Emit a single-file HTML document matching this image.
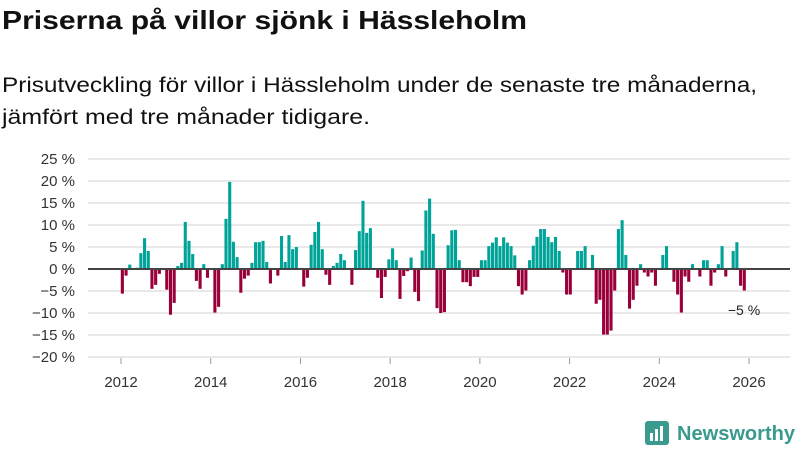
<!DOCTYPE html>
<html><head><meta charset="utf-8">
<style>
html,body{margin:0;padding:0;background:#fff;}
svg{display:block;font-family:"Liberation Sans",sans-serif;}
</style></head>
<body>
<svg id="chart" width="800" height="450" viewBox="0 0 800 450" xmlns="http://www.w3.org/2000/svg">
<text x="2" y="29" font-size="26" font-weight="bold" fill="#111" textLength="525" lengthAdjust="spacingAndGlyphs">Priserna på villor sjönk i Hässleholm</text>
<text x="2" y="92" font-size="21" fill="#111" textLength="755" lengthAdjust="spacingAndGlyphs">Prisutveckling för villor i Hässleholm under de senaste tre månaderna,</text>
<text x="2" y="124" font-size="21" fill="#111" textLength="368" lengthAdjust="spacingAndGlyphs">jämfört med tre månader tidigare.</text>
<g id="grid"></g>
<g id="ylabels"></g>
<g id="bars"></g>
<g id="xlabels"></g>
<text x="744" y="315" font-size="14" fill="#222" text-anchor="middle">−5 %</text>
<g>
  <rect x="645" y="421" width="24" height="24" rx="3" fill="#3a9a8e"/>
  <rect x="650" y="433" width="3" height="8" fill="#fff"/>
  <rect x="655" y="429" width="3" height="12" fill="#fff"/>
  <rect x="660" y="426" width="3" height="15" fill="#fff"/>
  <text x="677" y="440" font-size="20" font-weight="bold" fill="#3a9a8e" textLength="118" lengthAdjust="spacingAndGlyphs">Newsworthy</text>
</g>
</svg>
<script>
const yTicks = [25,20,15,10,5,0,-5,-10,-15,-20];
const yTickLabels = ["25 %","20 %","15 %","10 %","5 %","0 %","−5 %","−10 %","−15 %","−20 %"];
const xTickYears = [2012,2014,2016,2018,2020,2022,2024,2026];
const xTickLabels = ["2012","2014","2016","2018","2020","2022","2024","2026"];
const values = [
-5.6,-1.5,1,0,0.3,3.6,7,4.1,-4.5,-3.6,-1.1,0,-4.7,-10.4,-7.7,0.7,1.4,10.7,6.4,3.4,-2.7,-4.5,1.1,-2,
0,-9.9,-8.6,1.1,11.4,19.8,6.2,2.7,-5.4,-2.2,-1.5,1.4,6.1,6.1,6.4,1.6,-3.3,0,-1.5,7.5,1.6,7.7,4.5,5,
0,-4,-2,5.5,8.4,10.7,4.5,-1.3,-3.6,0.7,1.4,3.4,2,0,-3.6,4.3,8.6,15.5,8.2,9.3,0,-2,-6.6,-1.8,
2.2,4.7,2,-6.8,-1.6,-0.5,2.6,-5.2,-7.3,4.2,13.3,16,8,-8.9,-10,-9.8,5.4,8.8,8.9,2,-3,-3,-3.9,-1.8,
-1.8,2,2,5.2,6,7.2,5.2,7.2,6,5.2,3.1,-3.9,-5.8,-4.9,2,5.3,7.3,9.1,9.1,7.3,6.1,7.3,4.1,-0.8,
-5.8,-5.8,0,4.1,4.1,5.2,0,3.2,-7.9,-7,-14.9,-14.9,-14,-4.9,9.1,11.1,3.2,-9,-7,-3.8,1.1,-0.8,-1.7,-0.8,
-3.8,0,3.2,5.2,0,-2.9,-5.8,-9.9,-1.7,-2.9,1.1,0,-1.7,2,2,-3.8,-0.8,1.1,5.2,-1.7,0,4.1,6.1,-3.8,-4.9
];
const NS="http://www.w3.org/2000/svg";
function yScale(v){return 269 - v*4.4;}
function xYear(y){return 121 + (y-2012)*44.86;}
function xBar(i){return 122.3 + i*3.702;}
const grid=document.getElementById('grid'), yl=document.getElementById('ylabels');
yTicks.forEach((t,k)=>{
  if(t!==0){
    const l=document.createElementNS(NS,'line');
    
    
    l.setAttribute('x1',88);l.setAttribute('x2',790);
    l.setAttribute('y1',yScale(t));l.setAttribute('y2',yScale(t));
    l.setAttribute('stroke','#e2e2e2');l.setAttribute('stroke-width','1.5');
    grid.appendChild(l);
  }
  const tx=document.createElementNS(NS,'text');
  
  
  tx.setAttribute('x',75);tx.setAttribute('y',yScale(t)+5);
  tx.setAttribute('text-anchor','end');tx.setAttribute('font-size','15');tx.setAttribute('fill','#333');
  tx.textContent=yTickLabels[k];
  yl.appendChild(tx);
});
const bars=document.getElementById('bars');
values.forEach((v,i)=>{
  if(v===0)return;
  const r=document.createElementNS(NS,'rect');
  
  
  const x=xBar(i);
  r.setAttribute('x',x-1.5);r.setAttribute('width',3.1);
  r.setAttribute('y',Math.min(yScale(v),yScale(0)));
  r.setAttribute('height',Math.abs(yScale(v)-yScale(0)));
  r.setAttribute('fill',v>0?'#00a398':'#99003a');
  bars.appendChild(r);
});
const zl=document.createElementNS(NS,'line');


zl.setAttribute('x1',88);zl.setAttribute('x2',790);
zl.setAttribute('y1',yScale(0));zl.setAttribute('y2',yScale(0));
zl.setAttribute('stroke','#444');zl.setAttribute('stroke-width','2');
bars.appendChild(zl);
const xl=document.getElementById('xlabels');
xTickYears.forEach((y,k)=>{
  const l=document.createElementNS(NS,'line');
  
  
  l.setAttribute('x1',xYear(y));l.setAttribute('x2',xYear(y));
  l.setAttribute('y1',358);l.setAttribute('y2',364);
  l.setAttribute('stroke','#999');l.setAttribute('stroke-width','1');
  xl.appendChild(l);
  const tx=document.createElementNS(NS,'text');
  
  
  tx.setAttribute('x',xYear(y));tx.setAttribute('y',387);
  tx.setAttribute('text-anchor','middle');tx.setAttribute('font-size','15');tx.setAttribute('fill','#333');
  tx.textContent=xTickLabels[k];
  xl.appendChild(tx);
});
</script>
</body></html>
